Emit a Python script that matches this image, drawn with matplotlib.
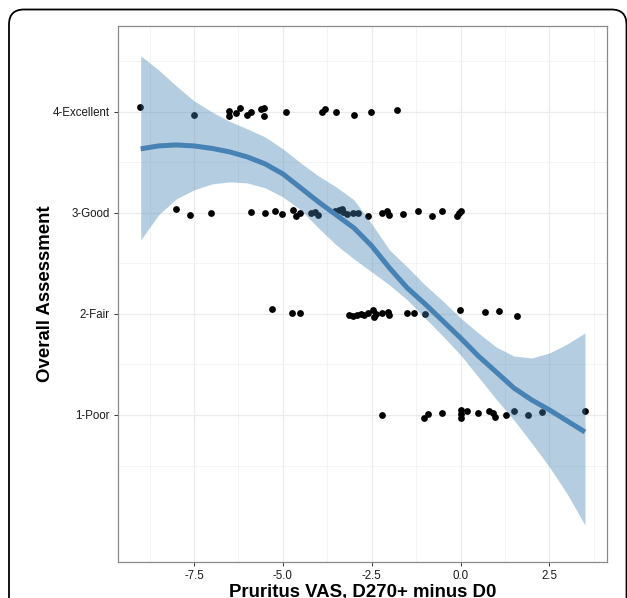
# plot.py
# Overall assessment vs change in pruritus VAS, with a loess-style smooth and its band.

import numpy as np
import matplotlib.pyplot as plt
from matplotlib.patches import FancyBboxPatch
from matplotlib.ticker import FixedLocator

plt.rcParams['font.family'] = ['Liberation Sans', 'DejaVu Sans']

# jittered observations, one pair of lists per rating
excellent_x = [-9.02, -7.50, -6.52, -6.52, -6.32, -6.22, -6.02, -5.91, -5.62, -5.53,
               -5.53, -4.91, -3.90, -3.82, -3.51, -3.00, -2.52, -1.79]
excellent_y = [4.05, 3.97, 4.01, 3.96, 3.99, 4.04, 3.97, 4.00, 4.03, 4.04,
               3.96, 4.00, 4.00, 4.03, 4.00, 3.97, 4.00, 4.02]

good_x = [-8.01, -7.61, -7.01, -5.91, -5.51, -5.21, -5.02, -4.72, -4.62, -4.52,
          -4.21, -4.11, -4.00, -3.52, -3.41, -3.33, -3.30, -3.21, -3.02, -2.90,
          -2.61, -2.22, -2.08, -2.01, -1.61, -1.21, -0.81, -0.51, -0.11, -0.04, 0.00]
good_y = [3.04, 2.98, 3.00, 3.01, 3.00, 3.02, 2.99, 3.03, 2.97, 3.00,
          3.00, 3.01, 2.98, 3.02, 3.03, 3.04, 3.01, 2.99, 3.00, 3.00,
          2.97, 3.00, 3.02, 2.98, 2.99, 3.02, 2.97, 3.02, 2.97, 3.00, 3.02]

fair_x = [-5.31, -4.74, -4.52, -3.14, -3.03, -2.92, -2.80, -2.72, -2.60, -2.47,
          -2.45, -2.38, -2.22, -2.04, -2.02, -1.52, -1.32, -1.00, -0.01, 0.69,
          1.09, 1.59]
fair_y = [2.05, 2.01, 2.01, 1.99, 1.98, 1.99, 2.00, 1.99, 2.01, 2.04,
          1.97, 2.00, 2.01, 2.02, 1.99, 2.01, 2.01, 2.00, 2.04, 2.02,
          2.03, 1.98]

poor_x = [-2.20, -1.02, -0.91, -0.51, 0.00, 0.00, 0.00, 0.19, 0.50, 0.80,
          0.92, 0.97, 1.29, 1.50, 1.90, 2.29, 3.50]
poor_y = [1.00, 0.97, 1.01, 1.02, 1.05, 1.01, 0.97, 1.04, 1.02, 1.04,
          1.02, 0.98, 1.00, 1.04, 1.00, 1.03, 1.04]

# smooth fit and its confidence band
smooth_x = [-9.0, -8.5, -8.0, -7.5, -7.0, -6.5, -6.0, -5.5, -5.0, -4.5, -4.0, -3.5, -3.0,
            -2.5, -2.0, -1.5, -1.0, -0.5, 0.0, 0.5, 1.0, 1.5, 2.0, 2.5, 3.0, 3.5]
smooth_y = [3.634, 3.663, 3.673, 3.663, 3.639, 3.604, 3.554, 3.485, 3.386, 3.248, 3.109,
            2.980, 2.851, 2.673, 2.455, 2.257, 2.099, 1.931, 1.762, 1.584, 1.426, 1.267,
            1.149, 1.050, 0.941, 0.832]
smooth_hi = [4.554, 4.416, 4.257, 4.109, 4.000, 3.906, 3.832, 3.752, 3.634, 3.495, 3.366,
             3.257, 3.129, 2.891, 2.634, 2.465, 2.287, 2.129, 1.960, 1.812, 1.673, 1.584,
             1.564, 1.614, 1.703, 1.812]
smooth_lo = [2.733, 2.980, 3.139, 3.228, 3.287, 3.307, 3.297, 3.248, 3.158, 3.030, 2.851,
             2.683, 2.545, 2.416, 2.287, 2.139, 1.960, 1.782, 1.594, 1.376, 1.158, 0.950,
             0.723, 0.485, 0.218, -0.089]

y_ticks = [1, 2, 3, 4]
y_labels = ["1-Poor", "2-Fair", "3-Good", "4-Excellent"]
x_ticks = [-7.5, -5.0, -2.5, 0.0, 2.5]
x_labels = ["-7.5", "-5.0", "-2.5", "0.0", "2.5"]

W, H = 627, 598
fig = plt.figure(figsize=(W / 100, H / 100), dpi=100)

# rounded outer frame (runs off the bottom edge)
frame = FancyBboxPatch((0.09, -0.3), 6.175, 6.185,
                       boxstyle="round,pad=0,rounding_size=0.15",
                       transform=fig.dpi_scale_trans, fill=False,
                       edgecolor="black", linewidth=1.3)
fig.patches.append(frame)

ax = fig.add_axes([118 / W, 1 - 562 / H, 489 / W, 536 / H])

for xs, ys in [(excellent_x, excellent_y), (good_x, good_y),
               (fair_x, fair_y), (poor_x, poor_y)]:
    ax.scatter(xs, ys, s=24, color="black", linewidths=0, zorder=3)

ax.fill_between(smooth_x, smooth_lo, smooth_hi, color="#4682B4", alpha=0.4,
                linewidth=0, zorder=4)
ax.plot(smooth_x, smooth_y, color="#4682B4", linewidth=3.6,
        solid_capstyle="butt", zorder=5)

ax.set_xlim(-9.64, 4.12)
ax.set_ylim(-0.455, 4.85)

ax.set_xticks(x_ticks)
ax.set_xticklabels(x_labels)
ax.set_yticks(y_ticks)
ax.set_yticklabels(y_labels)
ax.xaxis.set_minor_locator(FixedLocator([-8.75, -6.25, -3.75, -1.25, 1.25, 3.75]))
ax.yaxis.set_minor_locator(FixedLocator([0.5, 1.5, 2.5, 3.5, 4.5]))

ax.grid(True, which="major", color="#EBEBEB", linewidth=0.9, zorder=0)
ax.grid(True, which="minor", color="#F3F3F3", linewidth=0.6, zorder=0)
ax.set_axisbelow(True)

ax.tick_params(which="major", length=3, width=0.7, color="#333333",
               labelsize=8.3, labelcolor="#1a1a1a", pad=3)
ax.tick_params(which="minor", length=0)
for sp in ax.spines.values():
    sp.set_color("#8a8a8a")
    sp.set_linewidth(0.9)

fig.text(362.5 / W, 1 - 597 / H, "Pruritus VAS, D270+ minus D0", ha="center",
         va="baseline", fontsize=13.4, fontweight="bold")
fig.text(46 / W, 1 - 294 / H, "Overall Assessment", ha="center", va="center",
         rotation=90, fontsize=13.4, fontweight="bold")

fig.savefig("out.png", dpi=100)
